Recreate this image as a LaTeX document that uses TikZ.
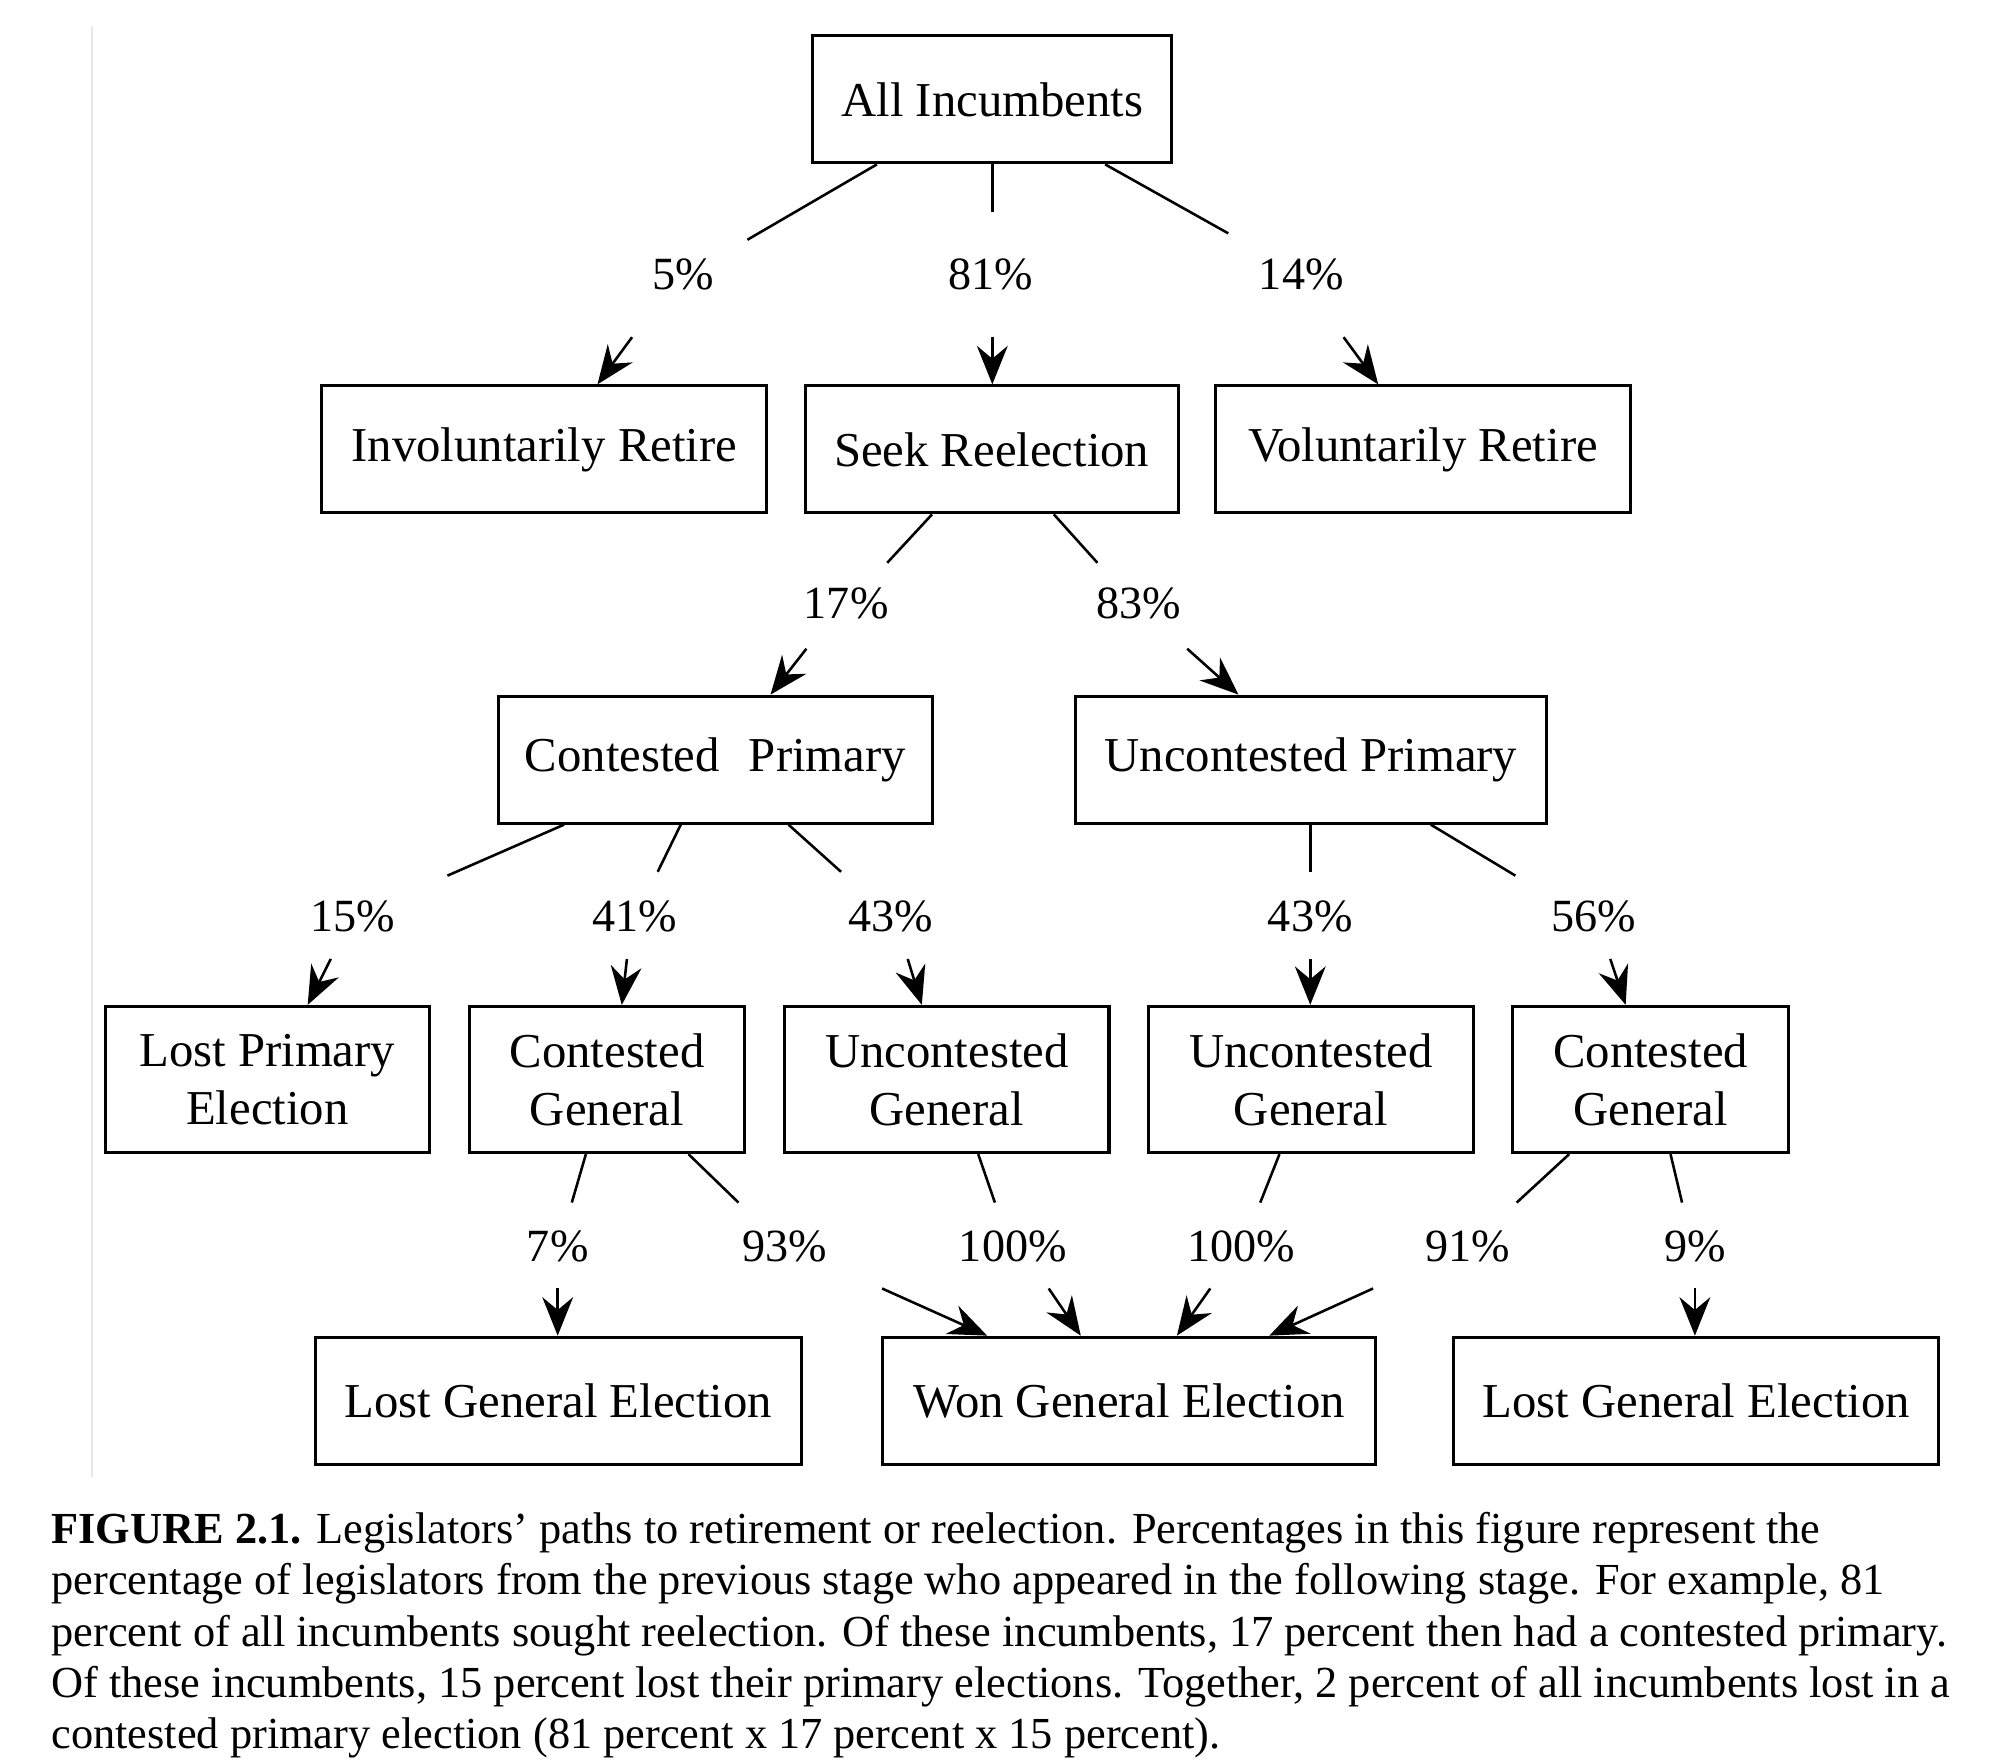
\documentclass[tikz,border=0pt]{standalone}
\usepackage{fontspec}
\setmainfont{Liberation Serif}
\usetikzlibrary{arrows.meta}
\begin{document}
\begin{tikzpicture}[x=1pt,y=-1pt,
  stagebox/.style={draw, line width=2.4pt, inner sep=0pt, align=center,
    font=\fontsize{38}{45}\selectfont},
  pct/.style={font=\fontsize{36}{40}\selectfont, inner sep=0pt},
  link/.style={line width=2pt},
  flow/.style={line width=2pt, -{Stealth[length=30pt,width=24pt,inset=10pt]}},
  captline/.style={anchor=base west, inner sep=0pt, font=\fontsize{34.6}{40}\selectfont}]
\useasboundingbox (0,0) rectangle (1560,1373);
\fill[white] (0,0) rectangle (1560,1373);
\draw[gray!18, line width=1.5pt] (72,20) -- (72,1152);

% boxes
\node[stagebox, minimum width=280pt, minimum height=99pt] (ai) at (774,77.5) {All Incumbents};
\node[stagebox, minimum width=347pt, minimum height=99pt] (ir) at (424.5,350.5) {Involuntarily Retire};
\node[stagebox, minimum width=291pt, minimum height=99pt] (sr) at (773.5,350.5) {Seek Reelection};
\node[stagebox, minimum width=324pt, minimum height=99pt] (vr) at (1110,350.5) {Voluntarily Retire};
\node[stagebox, minimum width=338pt, minimum height=99pt] (cp) at (558,592.5) {Contested\hspace{0.35em} Primary};
\node[stagebox, minimum width=367pt, minimum height=99pt] (up) at (1022.5,592.5) {Uncontested Primary};
\node[stagebox, minimum width=253pt, minimum height=114pt] (lp) at (208.5,842) {Lost Primary\\Election};
\node[stagebox, minimum width=215pt, minimum height=114pt] (cga) at (473.5,842) {Contested\\General};
\node[stagebox, minimum width=253pt, minimum height=114pt] (uga) at (738.5,842) {Uncontested\\General};
\node[stagebox, minimum width=253pt, minimum height=114pt] (ugb) at (1022.5,842) {Uncontested\\General};
\node[stagebox, minimum width=215pt, minimum height=114pt] (cgb) at (1287.5,842) {Contested\\General};
\node[stagebox, minimum width=379pt, minimum height=99pt] (lga) at (435.5,1092.5) {Lost General Election};
\node[stagebox, minimum width=385pt, minimum height=99pt] (won) at (880.5,1092.5) {Won General Election};
\node[stagebox, minimum width=378pt, minimum height=99pt] (lgb) at (1323,1092.5) {Lost General Election};

% percentage labels
\node[pct] (p5) at (533,214) {5\%};
\node[pct] (p81) at (773,214) {81\%};
\node[pct] (p14) at (1015,214) {14\%};
\node[pct] (p17) at (660,471) {17\%};
\node[pct] (p83) at (888,471) {83\%};
\node[pct] (p15) at (275,715) {15\%};
\node[pct] (p41) at (495,715) {41\%};
\node[pct] (p43a) at (695,715) {43\%};
\node[pct] (p43b) at (1022,715) {43\%};
\node[pct] (p56) at (1243,715) {56\%};
\node[pct] (p7) at (435,972) {7\%};
\node[pct] (p93) at (612,972) {93\%};
\node[pct] (p100a) at (790,972) {100\%};
\node[pct] (p100b) at (968,972) {100\%};
\node[pct] (p91) at (1145,972) {91\%};
\node[pct] (p9) at (1322,972) {9\%};

% free ends of the split connectors
\coordinate (e1) at (583,187);  \coordinate (s1) at (493,263);
\coordinate (e2) at (774,165);  \coordinate (s2) at (774,263);
\coordinate (e3) at (958,182);  \coordinate (s3) at (1048,263);
\coordinate (e4) at (692,439);  \coordinate (s4) at (629,506);
\coordinate (e5) at (856,439);  \coordinate (s5) at (926,506);
\coordinate (e6) at (349,683);  \coordinate (s6) at (258,748);
\coordinate (e7) at (513,680);  \coordinate (s7) at (489,748);
\coordinate (e8) at (656,680);  \coordinate (s8) at (708,748);
\coordinate (e9) at (1022,680); \coordinate (s9) at (1022,748);
\coordinate (e10) at (1182,683);\coordinate (s10) at (1256,748);
\coordinate (e11) at (446,938); \coordinate (s11) at (435,1005);
\coordinate (e12) at (576,938); \coordinate (s12) at (688,1005);
\coordinate (e13) at (776,938); \coordinate (s13) at (818,1005);
\coordinate (e14) at (983,938); \coordinate (s14) at (944,1005);
\coordinate (e15) at (1183,938);\coordinate (s15) at (1071,1005);
\coordinate (e16) at (1312,938);\coordinate (s16) at (1322,1005);

% upper halves
\draw[link] ([xshift=-90pt]ai.south) -- (e1);
\draw[link] (ai.south) -- (e2);
\draw[link] ([xshift=88pt]ai.south) -- (e3);
\draw[link] ([xshift=-46.5pt]sr.south) -- (e4);
\draw[link] ([xshift=48.5pt]sr.south) -- (e5);
\draw[link] ([xshift=-118pt]cp.south) -- (e6);
\draw[link] ([xshift=-27pt]cp.south) -- (e7);
\draw[link] ([xshift=57pt]cp.south) -- (e8);
\draw[link] ([xshift=-0.5pt]up.south) -- (e9);
\draw[link] ([xshift=93.5pt]up.south) -- (e10);
\draw[link] ([xshift=-16.5pt]cga.south) -- (e11);
\draw[link] ([xshift=63.5pt]cga.south) -- (e12);
\draw[link] ([xshift=24.5pt]uga.south) -- (e13);
\draw[link] ([xshift=-24.5pt]ugb.south) -- (e14);
\draw[link] ([xshift=-63.5pt]cgb.south) -- (e15);
\draw[link] ([xshift=15.5pt]cgb.south) -- (e16);

% lower halves with arrowheads
\draw[flow] (s1) -- ([xshift=41.5pt]ir.north);
\draw[flow] (s2) -- ([xshift=0.5pt]sr.north);
\draw[flow] (s3) -- ([xshift=-35pt]vr.north);
\draw[flow] (s4) -- ([xshift=43pt]cp.north);
\draw[flow] (s5) -- ([xshift=-56.5pt]up.north);
\draw[flow] (s6) -- ([xshift=31.5pt]lp.north);
\draw[flow] (s7) -- ([xshift=11.5pt]cga.north);
\draw[flow] (s8) -- ([xshift=-19.5pt]uga.north);
\draw[flow] (s9) -- ([xshift=-0.5pt]ugb.north);
\draw[flow] (s10) -- ([xshift=-19.5pt]cgb.north);
\draw[flow] (s11) -- ([xshift=-0.5pt]lga.north);
\draw[flow] (s12) -- ([xshift=-110.5pt]won.north);
\draw[flow] (s13) -- ([xshift=-37.5pt]won.north);
\draw[flow] (s14) -- ([xshift=37.5pt]won.north);
\draw[flow] (s15) -- ([xshift=109.5pt]won.north);
\draw[flow] (s16) -- ([xshift=-1pt]lgb.north);

% caption
\node[captline] (c1) at (40,1204) {\textbf{FIGURE 2.1.} Legislators’ paths to retirement or reelection. Percentages in this figure represent the};
\node[captline] (c2) at (40,1244) {percentage of legislators from the previous stage who appeared in the following stage. For example, 81};
\node[captline] (c3) at (40,1284) {percent of all incumbents sought reelection. Of these incumbents, 17 percent then had a contested primary.};
\node[captline] (c4) at (40,1324) {Of these incumbents, 15 percent lost their primary elections. Together, 2 percent of all incumbents lost in a};
\node[captline] (c5) at (40,1364) {contested primary election (81 percent x 17 percent x 15 percent).};
\end{tikzpicture}
\end{document}
